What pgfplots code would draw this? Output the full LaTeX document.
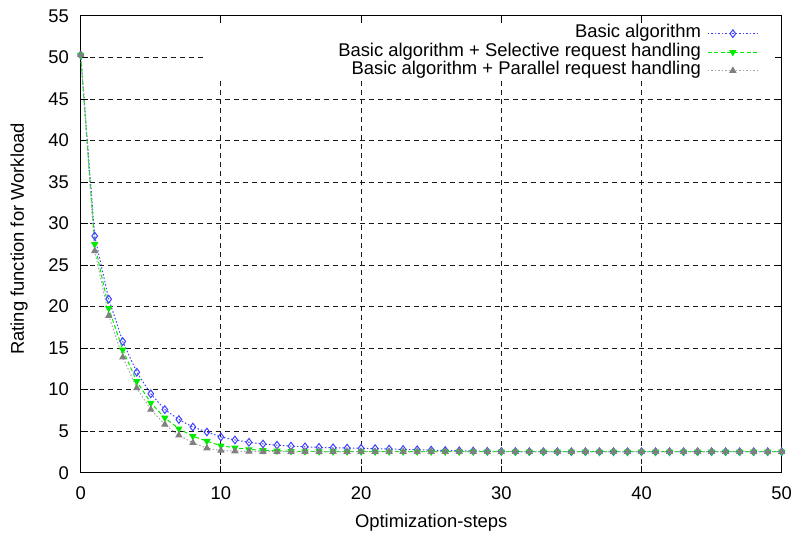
\documentclass[border=0pt]{standalone}
\usepackage{fontspec}
\setmainfont{Liberation Sans}
\usepackage{pgfplots}
\usepackage{pgfplotstable}
\pgfplotsset{compat=1.18}
\usetikzlibrary{calc}
\definecolor{gpblue}{RGB}{64,64,255}
\definecolor{gpgreen}{RGB}{0,235,0}
\definecolor{gpgray}{RGB}{128,128,128}
\definecolor{gpgrayline}{RGB}{165,165,165}
\pgfdeclarelayer{legendbg}
\pgfplotsset{
  layers/withlegendbg/.define layer set={
    axis background,axis grid,legendbg,axis ticks,axis lines,axis tick labels,
    main,axis descriptions,axis foreground
  }{
    grid style={/pgfplots/on layer=axis grid},
    tick style={/pgfplots/on layer=axis ticks},
    axis line style={/pgfplots/on layer=axis lines},
    label style={/pgfplots/on layer=axis descriptions},
    legend style={/pgfplots/on layer=axis descriptions},
    title style={/pgfplots/on layer=axis descriptions},
    colorbar style={/pgfplots/on layer=axis descriptions},
    ticklabel style={/pgfplots/on layer=axis tick labels},
    axis background@ style={/pgfplots/on layer=axis background},
    3d box foreground style={/pgfplots/on layer=axis foreground},
  },
}
\newcommand\gpfont{\fontsize{18.4}{21}\selectfont}

% step, basic, +selective, +parallel
\pgfplotstableread{
x  a     b     c
0  50.3  50.3  50.3
1  28.5  27.5  26.7
2  20.9  19.8  18.9
3  15.8  14.8  13.9
4  12.1  11.0  10.2
5  9.5   8.4   7.6
6  7.6   6.6   5.8
7  6.4   5.3   4.5
8  5.5   4.4   3.6
9  4.9   3.8   2.95
10 4.3   3.25  2.68
11 3.94  3.0   2.6
12 3.66  2.8   2.56
13 3.46  2.7   2.54
14 3.32  2.63  2.53
15 3.2   2.59  2.53
16 3.12  2.56  2.53
17 3.05  2.55  2.53
18 3.0   2.54  2.53
19 2.97  2.53  2.53
20 2.94  2.53  2.53
21 2.9   2.53  2.53
22 2.85  2.53  2.53
23 2.8   2.53  2.53
24 2.76  2.53  2.53
25 2.72  2.53  2.53
26 2.68  2.53  2.53
27 2.64  2.53  2.53
28 2.61  2.53  2.53
29 2.58  2.53  2.53
30 2.56  2.53  2.53
31 2.55  2.53  2.53
32 2.54  2.53  2.53
33 2.53  2.53  2.53
34 2.53  2.53  2.53
35 2.53  2.53  2.53
36 2.53  2.53  2.53
37 2.53  2.53  2.53
38 2.53  2.53  2.53
39 2.53  2.53  2.53
40 2.53  2.53  2.53
41 2.53  2.53  2.53
42 2.53  2.53  2.53
43 2.53  2.53  2.53
44 2.53  2.53  2.53
45 2.53  2.53  2.53
46 2.53  2.53  2.53
47 2.53  2.53  2.53
48 2.53  2.53  2.53
49 2.53  2.53  2.53
50 2.53  2.53  2.53
}\ratingdata

\begin{document}
\begin{tikzpicture}
\begin{axis}[
    name=ax, set layers=withlegendbg,
    scale only axis, width=701pt, height=456.7pt,
    xmin=0, xmax=50, ymin=0, ymax=55,
    xtick={0,10,...,50}, ytick={0,5,...,55},
    clip=false,
    font=\gpfont,
    /pgf/number format/assume math mode=true,
    tick align=inside, major tick length=7pt,
    tick style={black, line width=1pt},
    axis line style={black, line width=1pt},
    grid=major,
    grid style={black!90, line width=1pt, dash pattern=on 5pt off 4pt},
    xticklabel style={inner sep=0pt, anchor=north, yshift=-13.3pt},
    yticklabel style={inner sep=0pt, anchor=east, xshift=-11.7pt},
    xlabel={Optimization-steps},
    ylabel={Rating function for Workload},
    xlabel style={at={(axis description cs:0.5,-0.1211)}, anchor=base, inner sep=0pt},
    ylabel style={at={(axis description cs:-0.0809,0.5117)}, anchor=base, inner sep=0pt},
    legend cell align=right,
    legend plot pos=right,
    legend image code/.code={\draw[mark repeat=2,mark phase=2] plot coordinates {(0pt,0pt)(25pt,0pt)(50pt,0pt)};},
    legend style={at={(rel axis cs:0.967,0.982)}, anchor=north east,
        draw=none, fill=none, inner sep=0pt, row sep=0pt, column sep=6pt,
        font=\gpfont,
        nodes={inner sep=0.5pt, text height=13pt, text depth=4.5pt}},
]
% opaque legend area as gnuplot clears it
\addplot[on layer=legendbg, forget plot, draw=none, fill=white]
  coordinates {(8.9,47.2) (50,47.2) (50,55) (8.9,55)} --cycle;

\addplot[gpblue, line width=1pt, dash pattern=on 1.5pt off 2pt,
  mark=diamond, mark size=3.8pt, mark options={solid, fill=white, line width=1pt}]
  table[x=x, y=a] {\ratingdata};
\addplot[gpgreen, line width=1pt, dash pattern=on 4pt off 2.5pt,
  mark=triangle*, mark size=3.3pt, mark options={solid, rotate=180}]
  table[x=x, y=b] {\ratingdata};
\addplot[gpgrayline, line width=1pt, dash pattern=on 1.5pt off 2pt,
  mark=triangle*, mark size=3.3pt, mark options={solid, gpgray}]
  table[x=x, y=c] {\ratingdata};
\legend{Basic algorithm, Basic algorithm + Selective request handling, Basic algorithm + Parallel request handling}
\end{axis}
\pgfresetboundingbox
\path[use as bounding box] ($(ax.south west)+(-80.7pt,-60.3pt)$) rectangle ($(ax.north east)+(14.3pt,16pt)$);
\end{tikzpicture}
\end{document}
